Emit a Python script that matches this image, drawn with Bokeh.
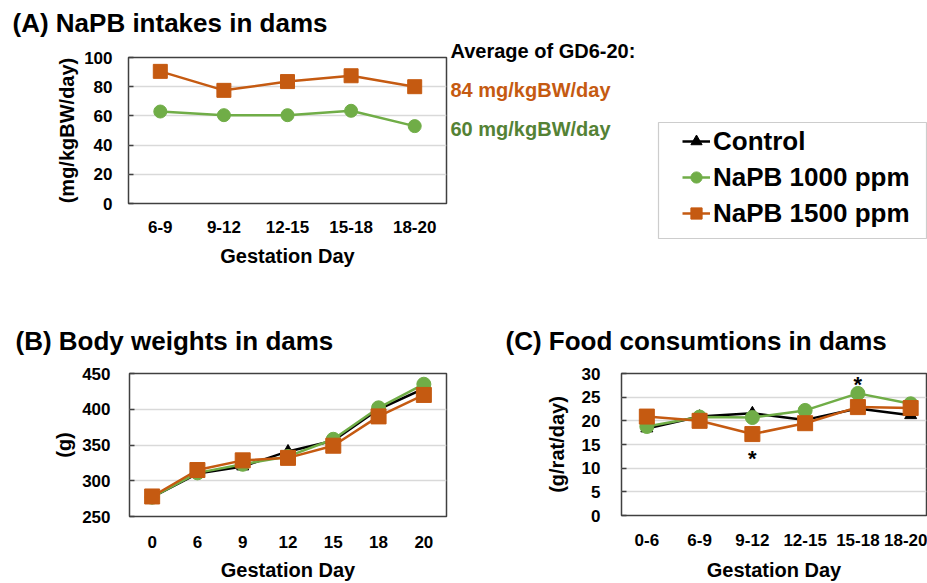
from bokeh.plotting import figure
from bokeh.models import (FactorRange, Range1d, FixedTicker, Label, Legend,
                          LegendItem, BoxAnnotation)
from bokeh.layouts import column, row
from bokeh.embed import file_html
from bokeh.resources import INLINE
from bokeh.core.properties import value

FONT = "Liberation Sans"
ORANGE = "#C55A11"
GREEN = "#70AD47"
GREEN_TEXT = "#548235"
BLACK = "#000000"
FRAME = "#404040"

# ---------------- data ----------------
# (A) NaPB intakes (mg/kgBW/day)
a_days = ["6-9", "9-12", "12-15", "15-18", "18-20"]
a_1000 = [63, 60.5, 60.5, 63.5, 53]
a_1500 = [90.5, 77.5, 83.5, 87.5, 80]
a_yticks = [0, 20, 40, 60, 80, 100]
a_avg_1500 = "84 mg/kgBW/day"
a_avg_1000 = "60 mg/kgBW/day"

# (B) Body weights (g)
b_days = ["0", "6", "9", "12", "15", "18", "20"]
b_control = [277, 310, 320, 341, 356, 400, 429]
b_1000 = [277, 311, 323, 334, 358, 402, 435]
b_1500 = [278, 315, 328.5, 332, 349, 390, 420]
b_yticks = [250, 300, 350, 400, 450]

# (C) Food consumption (g/rat/day)
c_days = ["0-6", "6-9", "9-12", "12-15", "15-18", "18-20"]
c_control = [18.4, 20.9, 21.6, 20.2, 22.6, 21.2]
c_1000 = [18.8, 20.8, 20.7, 22.2, 25.8, 23.6]
c_1500 = [20.9, 20.0, 17.2, 19.5, 22.9, 22.7]
c_yticks = [0, 5, 10, 15, 20, 25, 30]
c_sig_idx = [2, 4]
c_sig_y = [12.1, 27.6]

series_names = ["Control", "NaPB 1000 ppm", "NaPB 1500 ppm"]
titles = ["(A) NaPB intakes in dams", "(B) Body weights in dams",
          "(C) Food consumtions in dams"]


def make_fig(w, h, xr, yr, left, right, top, bottom):
    p = figure(width=w, height=h, x_range=xr, y_range=yr,
               output_backend="svg", toolbar_location=None,
               min_border_left=left, min_border_right=right,
               min_border_top=top, min_border_bottom=bottom)
    p.background_fill_color = "white"
    p.border_fill_color = "white"
    p.outline_line_color = FRAME
    p.outline_line_width = 1.5
    p.xgrid.visible = False
    p.ygrid.grid_line_color = "#d9d9d9"
    p.ygrid.grid_line_width = 1.5
    for ax in (p.xaxis, p.yaxis):
        ax.major_tick_line_color = None
        ax.minor_tick_line_color = None
        ax.axis_line_color = None
        ax.major_label_text_font = FONT
        ax.major_label_text_font_style = "bold"
        ax.major_label_text_font_size = "17px"
        ax.major_label_text_color = "black"
        ax.axis_label_text_font = FONT
        ax.axis_label_text_font_style = "bold"
        ax.axis_label_text_font_size = "20px"
        ax.axis_label_text_color = "black"
    p.yaxis.major_tick_line_color = FRAME
    p.yaxis.major_tick_line_width = 1.5
    p.yaxis.major_tick_in = 5
    p.yaxis.major_tick_out = 0
    return p


def pixel_fig(w, h, x0):
    """A figure whose frame fills it, one data unit per page pixel."""
    p = figure(width=w, height=h, x_range=Range1d(x0, x0 + w),
               y_range=Range1d(h, 0), output_backend="svg",
               toolbar_location=None, x_axis_type=None, y_axis_type=None,
               min_border_left=0, min_border_right=0,
               min_border_top=0, min_border_bottom=0)
    p.frame_align = False
    p.outline_line_color = None
    p.xgrid.visible = False
    p.ygrid.visible = False
    p.background_fill_color = "white"
    p.border_fill_color = "white"
    return p


def title_strip(w, h, x0, text, tx, ty):
    t = pixel_fig(w, h, x0)
    t.add_layout(Label(x=tx, y=ty, text=text, text_baseline="middle",
                       text_font=FONT, text_font_style="bold",
                       text_font_size="26px", text_color="black"))
    return t


def series(p, x, y, color, marker, size, lw=2.5):
    p.line(x, y, line_color=color, line_width=lw)
    p.scatter(x, y, marker=marker, size=size, fill_color=color, line_color=color)


# ---------------- panel A ----------------
tA = title_strip(448, 45, 0, titles[0], 12, 22)
pA = make_fig(448, 245, FactorRange(*a_days), Range1d(0, 100), 128, 2, 12, 87)
pA.yaxis.ticker = FixedTicker(ticks=a_yticks)
pA.yaxis.axis_label = "(mg/kgBW/day)"
pA.xaxis.axis_label = "Gestation Day"
pA.yaxis.major_label_standoff = 16
pA.yaxis.axis_label_standoff = 3
pA.xaxis.major_label_standoff = 11
pA.xaxis.axis_label_standoff = 9
series(pA, a_days, a_1000, GREEN, "circle", 13)
series(pA, a_days, a_1500, ORANGE, "square", 14)

# ---------------- legend / annotation panel ----------------
LW, LH = 479, 290
L_X0 = 448
pL = pixel_fig(LW, LH, L_X0)

for txt, yy, col in [("Average of GD6-20:", 50, "black"),
                     (a_avg_1500, 89, ORANGE),
                     (a_avg_1000, 128, GREEN_TEXT)]:
    pL.add_layout(Label(x=450, y=yy, text=txt, text_baseline="middle",
                        text_font=FONT, text_font_style="bold",
                        text_font_size="20px", text_color=col))

pL.add_layout(BoxAnnotation(left=658, right=926, top=122, bottom=238,
                            fill_alpha=0, line_color="#595959", line_width=1.2))

legend_specs = [(BLACK, "triangle"), (GREEN, "circle"), (ORANGE, "square")]
nan = float("nan")
items = []
for name, (col, mk) in zip(series_names, legend_specs):
    lr = pL.line([nan], [nan], line_color=col, line_width=2.5)
    sr = pL.scatter([nan], [nan], marker=mk, fill_color=col, line_color=col)
    items.append(LegendItem(label=name, renderers=[lr, sr]))
leg = Legend(items=items, location=(682 - L_X0, LH - 231),
             padding=0, spacing=0, margin=0,
             border_line_color=None, background_fill_alpha=0,
             glyph_width=28, glyph_height=36, label_height=36, label_standoff=3,
             label_text_font=FONT, label_text_font_style="bold",
             label_text_font_size="26px", label_text_color="black")
pL.add_layout(leg)

# ---------------- panel B ----------------
tB = title_strip(470, 70, 0, titles[1], 15, 50)
pB = make_fig(470, 223, FactorRange(*b_days), Range1d(250, 450), 129, 24, 13, 64)
pB.yaxis.ticker = FixedTicker(ticks=b_yticks)
pB.yaxis.axis_label = "(g)"
pB.xaxis.axis_label = "Gestation Day"
pB.yaxis.major_label_standoff = 19
pB.yaxis.axis_label_standoff = 4
pB.xaxis.major_label_standoff = 13
pB.xaxis.axis_label_standoff = 8
series(pB, b_days, b_control, BLACK, "triangle", 12)
series(pB, b_days, b_1000, GREEN, "circle", 14)
series(pB, b_days, b_1500, ORANGE, "square", 15)

# ---------------- panel C ----------------
tC = title_strip(457, 70, 470, titles[2], 505, 50)
c_x = list(range(len(c_days)))
pC = make_fig(457, 223, Range1d(-0.48, 5.3), Range1d(0, 30), 151, 1, 13, 64)
pC.xaxis.ticker = FixedTicker(ticks=c_x)
pC.xaxis.major_label_overrides = {i: d for i, d in zip(c_x, c_days)}
pC.yaxis.ticker = FixedTicker(ticks=c_yticks)
pC.yaxis.axis_label = "(g/rat/day)"
pC.xaxis.axis_label = "Gestation Day"
pC.yaxis.major_label_standoff = 21
pC.yaxis.axis_label_standoff = 11
pC.xaxis.major_label_standoff = 12
pC.xaxis.axis_label_standoff = 10
series(pC, c_x, c_control, BLACK, "triangle", 12)
series(pC, c_x, c_1000, GREEN, "circle", 14)
series(pC, c_x, c_1500, ORANGE, "square", 15)
pC.text(x=c_sig_idx, y=c_sig_y, text=["*"] * len(c_sig_idx),
        text_align="center", text_baseline="middle",
        text_font=value(FONT), text_font_style="bold",
        text_font_size="22px", text_color="black")

layout = column(
    row(column(tA, pA, spacing=0), pL, spacing=0),
    row(column(tB, pB, spacing=0), column(tC, pC, spacing=0), spacing=0),
    spacing=0)

open("out.html", "w").write(file_html(layout, INLINE))
